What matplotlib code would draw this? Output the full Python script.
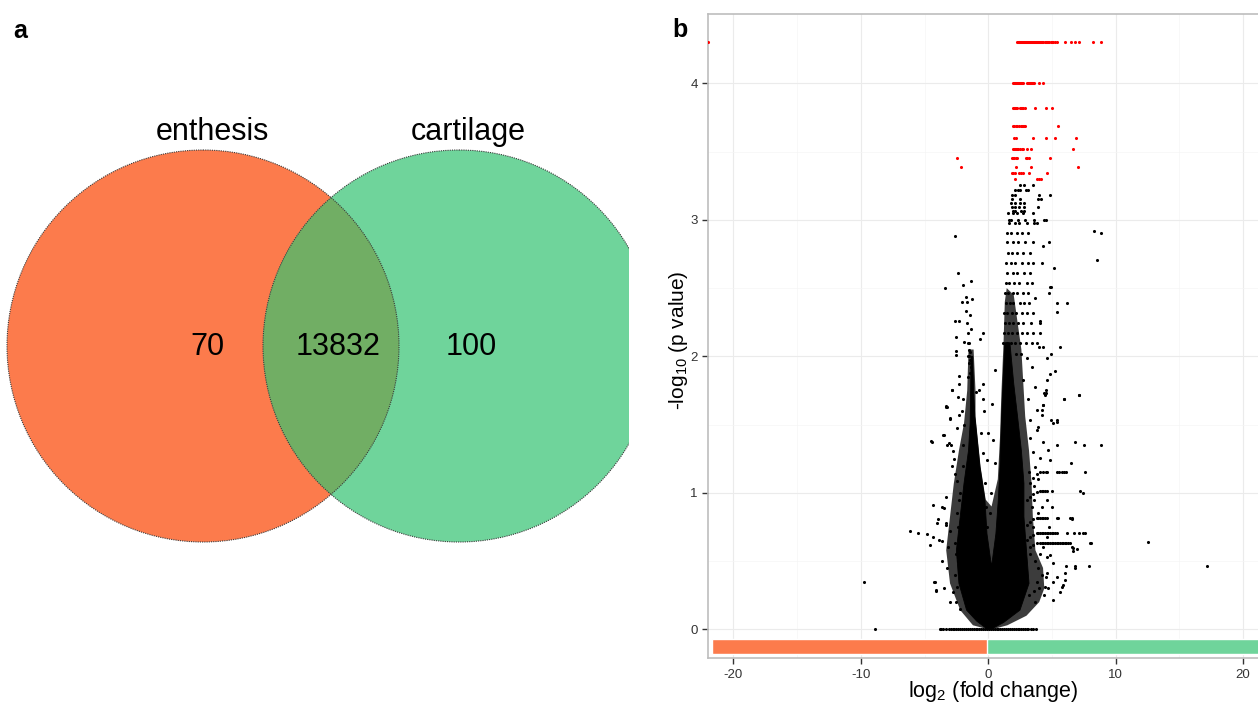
import numpy as np
import matplotlib
matplotlib.use("Agg")
import matplotlib.pyplot as plt
from matplotlib.patches import Circle, Polygon

plt.rcParams['font.family'] = ['Liberation Sans', 'DejaVu Sans']
plt.rcParams['mathtext.default'] = 'regular'
plt.rcParams['axes.unicode_minus'] = False

# -------------------------------
# Data
# -------------------------------
set_names = ['enthesis', 'cartilage']
only_enthesis = 70
shared = 13832
only_cartilage = 100

# red points (significant), rows of equal -log10 p
red_rows = [
    (4.30, [-21.97, 2.23, 2.3, 2.38, 2.45, 2.52, 2.6, 2.68, 2.75, 2.82, 2.9, 2.97, 3.05,
            3.12, 3.2, 3.28, 3.35, 3.43, 3.5, 3.58, 3.66, 3.74, 3.82, 3.9, 3.98, 4.06,
            4.15, 4.24, 4.33, 4.42, 4.5, 4.6, 4.7, 4.8, 4.9, 5.0, 5.1, 5.2, 5.37,
            6.05, 6.46, 6.83, 7.14, 8.24, 8.82]),
    (4.00, [1.96, 2.04, 2.12, 2.2, 2.28, 2.36, 2.44, 2.52, 2.6, 2.68, 2.76, 3.01, 3.09,
            3.17, 3.25, 3.33, 3.42, 3.5, 3.59, 3.95, 4.27]),
    (3.82, [1.91, 2.0, 2.1, 2.2, 2.28, 2.49, 2.58, 2.67, 2.76, 2.86, 3.69, 4.53, 5.03]),
    (3.69, [1.96, 2.05, 2.14, 2.23, 2.45, 2.54, 2.63, 2.72, 2.81, 2.9, 5.47]),
    (3.60, [2.02, 2.17, 3.51, 4.50, 5.21, 6.88]),
    (3.52, [1.91, 1.99, 2.07, 2.15, 2.23, 2.36, 2.5, 2.62, 2.75, 3.01, 3.33, 6.67]),
    (3.45, [-2.48, 1.86, 1.96, 2.06, 2.16, 2.28, 2.94, 3.07, 3.2, 4.87]),
    (3.39, [-2.14, 2.2, 3.33, 7.06]),
    (3.34, [1.83, 1.96, 2.09, 2.38, 2.56, 2.75, 3.22, 4.63]),
    (3.30, [2.12, 3.82, 3.98, 4.14]),
]

# black points in the upper right column and other rows
black_rows = [
    (3.257, [2.53, 2.79, 3.55]),
    (3.218, [2.12, 2.3, 2.5, 2.95, 3.1]),
    (3.184, [1.83, 2.12, 3.95, 4.84]),
    (3.152, [1.83, 2.51, 3.90, 4.11]),
    (3.121, [1.78, 2.12, 2.49, 2.8]),
    (3.092, [1.88, 2.09, 2.43, 2.77, 3.93]),
    (3.064, [1.93, 2.12, 2.54, 2.8]),
    (3.047, [1.57, 1.96, 2.23, 2.75, 3.54]),
    (3.000, [1.6, 1.8, 2.3, 2.9, 3.6, 4.35, 4.5]),
    (2.974, [1.65, 2.09, 2.43, 3.01, 3.59, 3.79]),
    (2.918, [8.27]),
    (2.901, [8.82]),
    (2.900, [1.49, 1.75, 2.22, 2.62, 3.14]),
    (2.835, [1.44, 1.96, 2.36, 2.91, 3.49, 4.76]),
    (2.810, [4.29]),
    (2.754, [1.57, 1.83, 2.22, 2.75, 3.27]),
    (2.706, [8.56]),
    (2.681, [1.39, 1.75, 2.09, 2.62, 3.14, 3.54, 4.19]),
    (2.644, [5.16]),
    (2.608, [1.44, 1.91, 2.22, 2.8, 3.27]),
    (2.535, [1.36, 1.65, 2.01, 2.43, 3.01, 3.41]),
    (2.510, [4.84, 4.9]),
    (2.461, [1.31, 1.57, 1.91, 2.28, 2.69, 3.14, 4.8]),
    (2.430, [3.7]),
    (2.388, [1.39, 1.7, 1.96, 2.49, 2.8, 3.22, 5.37, 6.15]),
    (2.322, [5.40]),
    (2.315, [1.23, 1.49, 1.83, 2.17, 2.62, 3.01, 3.54]),
    (2.260, [4.03]),
    (2.242, [1.31, 1.65, 1.91, 2.36, 2.75, 3.33, 4.06]),
    (2.169, [1.23, 1.52, 1.83, 2.22, 2.62, 3.01, 3.54, 4.06]),
    (2.096, [1.15, 1.44, 1.75, 2.09, 2.49, 2.96, 3.41, 3.8]),
    (2.070, [3.98, 4.29, 5.63]),
    (2.020, [2.2, 2.6, 4.92]),
    (1.990, [3.01, 4.6]),
    (1.924, [3.41]),
    (1.895, [5.24]),
    (1.870, [4.81]),
    (1.826, [2.75, 4.58]),
    (1.777, [3.67]),
    (1.730, [4.37]),
    (1.716, [4.45, 7.14]),
    (1.691, [3.14]),
    (1.687, [5.92]),
    (1.640, [4.3]),
    (1.610, [3.79, 4.2]),
    (1.533, [3.27, 4.92, 5.37]),
    (1.484, [3.93]),
    # streaks on the right
    (1.155, [4.31, 4.5, 4.58, 5.36, 5.55, 5.76, 5.94, 6.07, 7.58]),
    (1.218, [6.48]),
    (1.016, [4.06, 4.19, 4.31, 4.45, 4.58, 4.97, 7.2]),
    (0.996, [7.46]),
    (0.813, [3.80, 3.93, 4.06, 4.19, 4.31, 4.44, 4.58, 5.36, 5.49, 6.41, 6.59]),
    (0.809, [6.54]),
    (0.703, [3.80, 3.93, 4.06, 4.19, 4.31, 4.45, 4.58, 4.71, 4.84, 4.97, 5.10, 5.23,
             5.36, 6.15, 6.75, 7.12, 7.41, 7.58]),
    (0.634, [4.06, 4.19, 4.32, 4.45, 4.58, 4.71, 4.84, 4.97, 5.10, 5.23, 5.36, 5.49,
             5.62, 5.75, 5.88, 6.01, 6.14, 6.27, 6.41, 8.0]),
    # points with p = 1
    (0.0, [-8.86, -3.79, -3.68, -3.52, -3.3, -3.05, -2.9, -2.78, -2.65, -2.5, -2.35,
           -2.2, -2.05, -1.9, -1.75, -1.6, -1.45, -1.3, -1.15, -1.0, -0.85, -0.7, -0.55,
           -0.4, -0.25, -0.1, 0.05, 0.2, 0.35, 0.5, 0.65, 0.8, 0.95, 1.1, 1.25, 1.4,
           1.55, 1.7, 1.85, 2.0, 2.15, 2.3, 2.45, 2.6, 2.75, 2.9, 3.05, 3.15, 3.35,
           3.5, 3.73]),
]

# scattered black points (log2 fc, -log10 p)
left_arm_pts = [
    (-2.59, 2.884), (-2.40, 2.608), (-3.37, 2.498), (-1.96, 2.52), (-1.75, 2.432),
    (-2.06, 2.395), (-1.70, 2.395), (-1.78, 2.334), (-2.59, 2.256), (-2.30, 2.256),
    (-1.67, 2.246), (-1.59, 2.168), (-0.44, 2.173), (-0.65, 2.127), (-2.56, 2.144),
    (-1.9, 2.107), (-1.5, 2.095), (-2.5, 2.04), (-2.5, 2.009), (-1.5, 2.05),
    (-1.52, 2.0), (-1.45, 1.97), (-2.32, 1.858), (-2.30, 1.80), (-2.87, 1.753),
    (-2.40, 1.70), (-3.30, 1.63), (-3.0, 1.54), (-2.48, 1.475), (-0.44, 1.80),
    (-1.0, 1.74), (-0.44, 1.69), (-1.96, 1.69), (-1.5, 1.95), (-1.35, 1.92),
    (-1.6, 2.0), (-1.45, 2.03), (-1.55, 2.1), (-1.4, 1.88), (-1.62, 1.85),
    (-1.35, 2.2), (-1.42, 2.3), (-1.3, 2.42), (-1.38, 2.55),
]

left_halo_pts = [
    (-3.27, 1.631), (-3.0, 1.546), (-2.30, 1.57), (-3.53, 1.427), (-3.06, 1.362),
    (-4.44, 1.375), (-2.8, 1.31), (-2.7, 1.25), (-2.85, 1.2), (-2.6, 1.14),
    (-2.48, 1.09), (-3.32, 0.972), (-4.37, 0.91), (-3.66, 0.898), (-3.48, 0.886),
    (-3.92, 0.806), (-3.34, 0.776), (-3.0, 0.72), (-6.15, 0.72), (-5.49, 0.703),
    (-4.84, 0.696), (-4.31, 0.68), (-3.84, 0.656), (-3.66, 0.644), (-4.57, 0.619),
    (-3.13, 0.607), (-2.61, 0.632), (-4.18, 0.35), (-4.1, 0.283), (-2.76, 0.277),
    (-2.43, 0.313), (-2.3, 0.41), (-2.4, 0.5), (-2.53, 0.55), (-9.72, 0.35),
    (-4.52, 1.38), (-3.3, 1.633), (-2.87, 1.755), (-3.5, 1.425), (-3.2, 1.35),
    (-2.9, 1.35), (-4.02, 0.777), (-3.3, 0.765), (-4.23, 0.35), (-4.08, 0.29),
    (-2.3, 0.95), (-2.45, 0.85), (-2.35, 0.62), (-2.6, 0.4), (-2.5, 0.2),
    (-2.2, 0.15), (-2.0, 1.2), (-1.95, 1.35), (-1.9, 1.5), (-2.05, 1.6),
    (-2.2, 1.0), (-2.4, 0.75), (-3.6, 0.5), (-3.2, 0.45), (-3.5, 0.3),
    (-3.0, 0.2),
]

gap_pts = [
    (-0.57, 1.436), (0.0, 1.436), (-0.39, 1.289), (-0.08, 1.24), (-0.65, 1.118),
    (-0.26, 1.069), (-0.52, 0.947), (0.13, 0.85), (-0.13, 0.752), (0.52, 1.216),
    (0.39, 1.387), (-0.3, 1.6), (0.3, 1.65), (-0.7, 1.75), (0.5, 1.9),
    (-0.2, 0.9), (0.25, 1.0),
]

right_halo_pts = [
    (4.31, 1.643), (5.36, 1.521), (5.1, 1.509), (4.19, 1.57), (3.79, 1.46),
    (4.31, 1.375), (4.71, 1.313), (4.06, 1.253), (3.67, 1.191), (4.84, 1.24),
    (5.36, 1.35), (6.8, 1.375), (7.51, 1.35), (8.84, 1.35), (7.15, 1.72),
    (5.96, 1.687), (4.5, 1.755), (4.5, 1.73), (6.98, 0.589), (6.69, 0.575),
    (8.1, 0.631), (7.87, 0.465), (6.83, 0.447), (6.14, 0.465), (6.05, 0.362),
    (5.9, 0.325), (12.5, 0.638), (17.19, 0.465), (3.3, 1.4), (3.5, 1.3),
    (3.2, 1.15), (3.4, 0.9), (3.6, 0.95), (3.3, 0.55), (3.7, 0.5),
    (3.9, 0.45), (4.2, 0.4), (3.8, 0.35), (4.5, 0.38), (4.0, 0.3),
    (3.6, 0.28), (4.4, 0.25), (3.2, 0.25), (3.7, 0.2), (4.7, 0.3),
    (5.1, 0.35), (4.58, 0.532), (4.84, 0.544), (5.10, 0.483), (4.58, 0.41),
    (5.36, 0.386), (5.76, 0.312), (6.02, 0.41), (6.80, 0.466), (5.62, 0.276),
    (5.10, 0.215), (4.45, 0.312), (4.1, 0.55), (4.3, 0.6), (3.9, 0.85),
    (4.2, 0.9), (4.6, 0.95), (3.6, 1.05), (3.9, 1.1), (4.8, 0.75),
    (5.0, 0.9), (3.5, 0.75), (4.6, 0.68),
    # curved starts of the streaks
    (3.28, 1.069), (3.54, 1.106), (3.80, 1.138), (4.06, 1.15),
    (3.01, 0.947), (3.28, 0.972), (3.54, 0.991), (3.80, 1.006),
    (3.01, 0.763), (3.28, 0.788), (3.54, 0.805),
    (3.01, 0.654), (3.28, 0.679), (3.54, 0.694),
    (3.28, 0.605), (3.54, 0.619), (3.80, 0.629), (6.54, 0.605), (6.67, 0.593),
]

# outline of the area where points merge into solid black
dense_outline = [
    (-0.05, 0.0), (-0.9, 0.06), (-1.7, 0.141), (-2.3, 0.337), (-2.5, 0.58),
    (-2.2, 0.825), (-1.9, 1.07), (-1.55, 1.31), (-1.42, 1.51), (-1.38, 1.75),
    (-1.35, 2.0), (-1.22, 2.0), (-1.15, 1.75), (-1.05, 1.56), (-0.65, 1.19),
    (-0.26, 0.95), (-0.1, 0.7), (0.26, 0.46), (0.6, 0.7), (0.79, 0.95),
    (0.92, 1.19), (1.05, 1.56), (1.2, 1.9), (1.3, 2.1), (1.7, 2.1),
    (2.0, 1.8), (2.3, 1.56), (2.6, 1.31), (2.8, 1.07), (2.8, 0.825),
    (3.0, 0.58), (3.2, 0.337), (2.49, 0.141), (1.2, 0.05), (0.2, 0.0),
]

# outline of the speckled (mostly covered) area around it
speckle_outline = [
    (0.0, 0.0), (-1.2, 0.03), (-2.2, 0.141), (-3.0, 0.337), (-3.3, 0.58),
    (-3.0, 0.825), (-2.7, 1.07), (-2.3, 1.31), (-1.9, 1.51), (-1.65, 1.75),
    (-1.55, 2.05), (-1.15, 2.05), (-1.0, 1.75), (-1.0, 1.56), (-0.6, 1.19),
    (-0.2, 0.95), (0.26, 0.9), (0.75, 1.1), (0.92, 1.4), (1.02, 1.7),
    (1.2, 2.1), (1.3, 2.4), (1.45, 2.5), (2.0, 2.45), (2.6, 2.05),
    (2.9, 1.56), (3.2, 1.31), (3.4, 1.07), (3.5, 0.825), (3.7, 0.58),
    (4.3, 0.45), (4.4, 0.3), (4.0, 0.2), (3.0, 0.1), (1.5, 0.03), (0.3, 0.0),
]

# colour strip under the volcano plot
strip_left = [-21.7, 0.08]
strip_right = [-0.13, 21.7]

orange = '#FC7B4C'
green = '#6FD49B'
overlap = '#71AE64'


def rows_to_xy(rows):
    xs, ys = [], []
    for y, row in rows:
        xs += row
        ys += [y] * len(row)
    return np.array(xs), np.array(ys)


fig = plt.figure(figsize=(12.58, 7.13), dpi=100)

# -------------------------------
# a: Venn diagram
# -------------------------------
ax_a = fig.add_axes([0, 0, 629 / 1258, 1])
ax_a.set_xlim(0, 629)
ax_a.set_ylim(713, 0)
ax_a.axis('off')

c_left = Circle((203, 346), 196, fc=orange, ec='none')
c_right = Circle((459, 346), 196, fc=green, ec='none')
ax_a.add_patch(c_left)
ax_a.add_patch(c_right)
c_mid = Circle((459, 346), 196, fc=overlap, ec='none')
ax_a.add_patch(c_mid)
c_mid.set_clip_path(c_left)
for cx in (203, 459):
    ax_a.add_patch(Circle((cx, 346), 196, fill=False, ec='#3a3a3a', lw=0.8,
                          ls=(0, (1, 1))))

ax_a.text(212, 140, set_names[0], ha='center', va='baseline', fontsize=22)
ax_a.text(468, 140, set_names[1], ha='center', va='baseline', fontsize=22)
ax_a.text(207, 355, str(only_enthesis), ha='center', va='baseline', fontsize=22)
ax_a.text(338, 355, str(shared), ha='center', va='baseline', fontsize=22)
ax_a.text(471, 355, str(only_cartilage), ha='center', va='baseline', fontsize=22)

fig.text(13 / 1258, 1 - 38 / 713, 'a', fontsize=18, fontweight='bold', va='baseline')
fig.text(672 / 1258, 1 - 37 / 713, 'b', fontsize=18, fontweight='bold', va='baseline')

# -------------------------------
# b: volcano plot
# -------------------------------
ax = fig.add_axes([708.3 / 1258, 1 - 658.3 / 713, 1 - 708.3 / 1258, (658.3 - 14) / 713])
ax.set_xlim(-21.97, 21.17)
ax.set_ylim(-0.212, 4.508)

ax.add_patch(Polygon(np.array(speckle_outline), closed=True,
                     fc='#3c3c3c', ec='none', zorder=2))
ax.add_patch(Polygon(np.array(dense_outline), closed=True,
                     fc='black', ec='black', lw=0.6, zorder=2))

bx, by = rows_to_xy(black_rows)
pts = np.array(left_arm_pts + left_halo_pts + gap_pts + right_halo_pts)
ax.scatter(np.concatenate([bx, pts[:, 0]]), np.concatenate([by, pts[:, 1]]),
           s=5, c='black', linewidths=0, zorder=3)
rx, ry = rows_to_xy(red_rows)
ax.scatter(rx, ry, s=5, c='#FF0000', linewidths=0, zorder=3)

ax.barh([-0.125, -0.125], [strip_left[1] - strip_left[0], strip_right[1] - strip_right[0]],
        left=[strip_left[0], strip_right[0]], height=0.105,
        color=[orange, green], edgecolor='white', linewidth=1, zorder=3)

ax.set_xticks([-20, -10, 0, 10, 20])
ax.set_yticks([0, 1, 2, 3, 4])
ax.set_xticks([-15, -5, 5, 15], minor=True)
ax.set_yticks([0.5, 1.5, 2.5, 3.5], minor=True)
ax.grid(which='major', color='#EBEBEB', lw=0.8)
ax.grid(which='minor', color='#F5F5F5', lw=0.5)
ax.set_axisbelow(True)
ax.tick_params(which='major', direction='out', length=4, width=1, color='#333333',
               labelsize=9.5, labelcolor='#333333')
ax.tick_params(which='minor', length=0)
for side in ('top', 'left', 'bottom'):
    ax.spines[side].set_color('#BDBDBD')
    ax.spines[side].set_linewidth(1.2)
ax.spines['right'].set_visible(False)

fig.text(993 / 1258, 1 - 697 / 713, 'log$_2$ (fold change)', ha='center',
         va='baseline', fontsize=15.5)
fig.text(679 / 1258, 1 - 340 / 713, '-log$_{10}$ (p value)', ha='center',
         va='center', rotation=90, fontsize=15)

fig.savefig('out.png', dpi=100)
